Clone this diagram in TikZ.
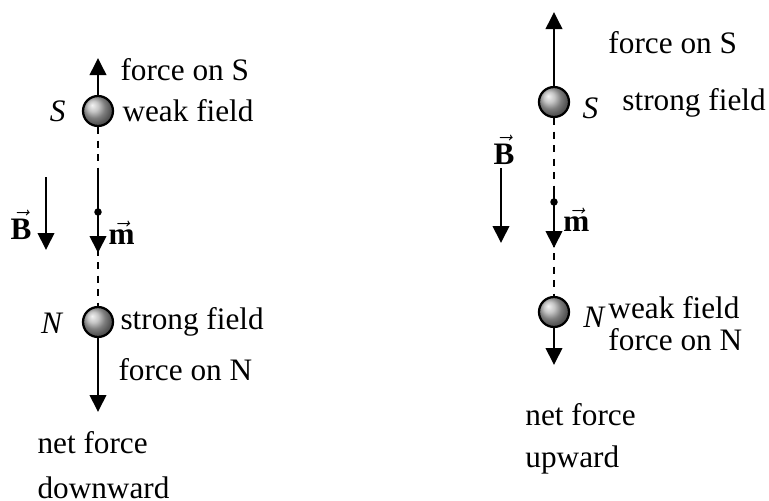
\documentclass[tikz,border=0pt]{standalone}
\usepackage{amsmath}
\usepackage{fontspec}
\setmainfont{Liberation Serif}
\usetikzlibrary{arrows.meta}

\begin{document}
\begin{tikzpicture}[x=0.4pt, y=-0.4pt, font=\fontsize{12.5}{14}\selectfont,
      ball/.style={circle, draw, line width=0.9pt, minimum size=12pt, inner sep=0pt,
        ball color=gray!60},
      vec/.style={-{Triangle[length=6.8pt, width=6.6pt]}, line width=0.8pt},
      axis/.style={line width=0.8pt, dash pattern=on 2.8pt off 2.6pt},
      dot/.style={circle, fill, inner sep=0pt, minimum size=3pt},
      lbl/.style={inner sep=0pt}]
    \useasboundingbox (0,0) rectangle (769,501);
    % left: net force downward
    \node[ball] (S1) at (98,111) {};
    \node[ball] (N1) at (98,322) {};
    \coordinate (FS1) at (98,58);
    \coordinate (FN1) at (98,412);
    \coordinate (m1a) at (98,174);
    \coordinate (m1b) at (98,253);
    \coordinate (B1a) at (46,177);
    \coordinate (B1b) at (46,250);
    \draw[axis] (S1) -- (N1);
    \draw[vec] (S1) -- (FS1);
    \draw[vec] (N1) -- (FN1);
    \draw[vec] (m1a) -- (m1b);
    \node[dot] (c1) at (98,212) {};
    \draw[vec] (B1a) -- (B1b);
    \node[lbl, anchor=west] (fs1) at (120,70) {force on S};
    \node[lbl, anchor=east] (s1) at (66,111) {\textit{S}};
    \node[lbl, anchor=west] (wf1) at (122,111) {weak field};
    \node[lbl, anchor=west] (m1) at (108,233) {$\vec{\textbf{m}}$};
    \node[lbl] (b1) at (21,225) {$\vec{\textbf{B}}$};
    \node[lbl, anchor=east] (n1) at (64,323) {\textit{N}};
    \node[lbl, anchor=west] (sf1) at (120,322) {strong field};
    \node[lbl, anchor=west] (fn1) at (118,370) {force on N};
    \node[lbl, anchor=west] (net1) at (37,443) {net force};
    \node[lbl, anchor=west] (dir1) at (37,488) {downward};
    % right: net force upward
    \node[ball] (S2) at (554,102) {};
    \node[ball] (N2) at (554,312) {};
    \coordinate (FS2) at (554,12);
    \coordinate (FN2) at (554,365);
    \coordinate (m2a) at (554,187);
    \coordinate (m2b) at (554,248);
    \coordinate (B2a) at (501,168);
    \coordinate (B2b) at (501,243);
    \draw[axis] (S2) -- (N2);
    \draw[vec] (S2) -- (FS2);
    \draw[vec] (N2) -- (FN2);
    \draw[vec] (m2a) -- (m2b);
    \node[dot] (c2) at (554,202) {};
    \draw[vec] (B2a) -- (B2b);
    \node[lbl, anchor=west] (fs2) at (608,43) {force on S};
    \node[lbl, anchor=west] (s2) at (582,108) {\textit{S}};
    \node[lbl, anchor=west] (sf2) at (622,103) {strong field};
    \node[lbl, anchor=west] (m2) at (563,220) {$\vec{\textbf{m}}$};
    \node[lbl] (b2) at (504,150) {$\vec{\textbf{B}}$};
    \node[lbl, anchor=west] (n2) at (583,317) {\textit{N}};
    \node[lbl, anchor=west] (wf2) at (608,308) {weak field};
    \node[lbl, anchor=west] (fn2) at (608,340) {force on N};
    \node[lbl, anchor=west] (net2) at (525,415) {net force};
    \node[lbl, anchor=west] (dir2) at (525,460) {upward};
  \end{tikzpicture}
\end{document}
